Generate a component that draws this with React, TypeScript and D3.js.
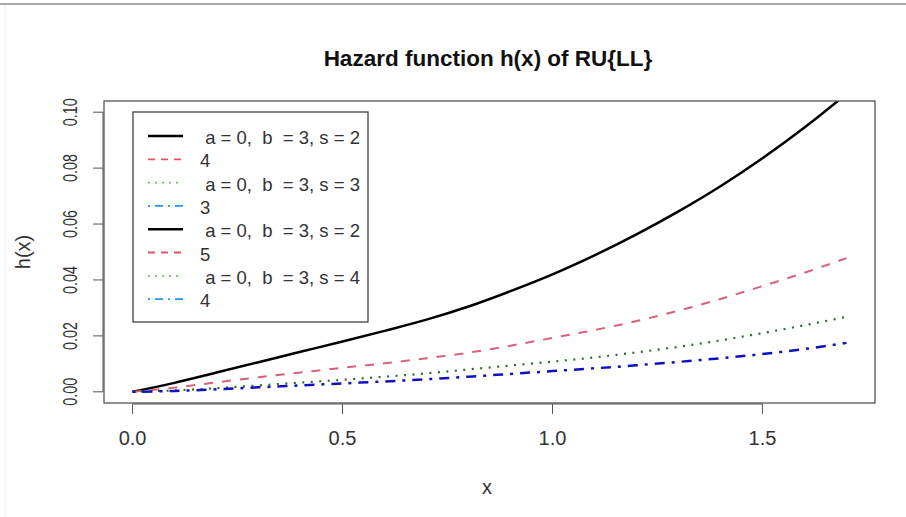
import { useEffect, useRef } from "react";
import * as d3 from "d3";

const W = 906;
const H = 517;

// x grid the curves were evaluated on
const xs = [0, 0.1, 0.2, 0.3, 0.4, 0.5, 0.6, 0.7, 0.8, 0.9, 1.0, 1.1, 1.2, 1.3, 1.4, 1.5, 1.6, 1.7];

// hazard values
const hSolid = [0, 0.0032, 0.0069, 0.0106, 0.0143, 0.018, 0.0218, 0.0258, 0.0305, 0.036, 0.042, 0.0488, 0.0563, 0.0645, 0.0735, 0.0835, 0.0945, 0.1065];
const hDashed = [0, 0.0015, 0.0034, 0.0052, 0.0069, 0.0086, 0.0102, 0.012, 0.014, 0.0165, 0.0193, 0.0221, 0.0253, 0.029, 0.0332, 0.0378, 0.0426, 0.0478];
const hDotted = [0, 0.0005, 0.0013, 0.0023, 0.0033, 0.0043, 0.0054, 0.0066, 0.008, 0.0094, 0.0108, 0.0123, 0.0141, 0.0161, 0.0184, 0.021, 0.0238, 0.0268];
const hDotDash = [0, 0.0003, 0.0009, 0.0016, 0.0023, 0.003, 0.0037, 0.0045, 0.0054, 0.0064, 0.0074, 0.0084, 0.0095, 0.0107, 0.012, 0.0135, 0.0153, 0.0175];

const xTicks = [0, 0.5, 1.0, 1.5];
const yTicks = [0, 0.02, 0.04, 0.06, 0.08, 0.1];

const legendLabels = [
  " a = 0,  b  = 3, s = 2",
  "4",
  " a = 0,  b  = 3, s = 3",
  "3",
  " a = 0,  b  = 3, s = 2",
  "5",
  " a = 0,  b  = 3, s = 4",
  "4",
];
// legend uses palette 1:4, lty 1:4 repeated
const legendColors = ["#000000", "#DF536B", "#61D04F", "#2297E6"];
const legendDash = [null, "7,6", "2,5", "2,5,8,5"];

const FONT = "'Liberation Sans', Arial, Helvetica, sans-serif";

export default function App() {
  const ref = useRef<SVGSVGElement>(null);

  useEffect(() => {
    const svg = d3.select(ref.current);
    svg.selectAll("*").remove();

    const x = d3.scaleLinear().domain([-0.068, 1.768]).range([104, 875]);
    const y = d3.scaleLinear().domain([-0.004, 0.104]).range([403, 101]);

    svg.append("rect").attr("width", W).attr("height", H).attr("fill", "#fff");
    // screenshot frame edges
    svg.append("line").attr("x1", 0).attr("x2", W).attr("y1", 4).attr("y2", 4)
      .attr("stroke", "#a8a8a8").attr("stroke-width", 2);
    svg.append("line").attr("x1", 5).attr("x2", 5).attr("y1", 5).attr("y2", H)
      .attr("stroke", "#f0f0f0").attr("stroke-width", 1);

    svg.append("clipPath").attr("id", "plotclip")
      .append("rect")
      .attr("x", x(-0.068)).attr("y", y(0.104))
      .attr("width", x(1.768) - x(-0.068)).attr("height", y(-0.004) - y(0.104));

    const line = d3.line<number>()
      .x((_, i) => x(xs[i]))
      .y((d) => y(d))
      .curve(d3.curveMonotoneX);

    const series = [
      { data: hSolid, color: "#000000", dash: null, width: 2.5 },
      { data: hDashed, color: "#D9607A", dash: "9,9", width: 2 },
      { data: hDotted, color: "#2E6B2E", dash: "2,6.5", width: 2.2 },
      { data: hDotDash, color: "#1010C0", dash: "3,7,10,7", width: 2.5 },
    ];

    const g = svg.append("g").attr("clip-path", "url(#plotclip)");
    series.forEach((s) => {
      g.append("path")
        .datum(s.data)
        .attr("d", line)
        .attr("fill", "none")
        .attr("stroke", s.color)
        .attr("stroke-width", s.width)
        .attr("stroke-dasharray", s.dash)
        .attr("stroke-linecap", "butt");
    });

    // box
    svg.append("rect")
      .attr("x", x(-0.068)).attr("y", y(0.104))
      .attr("width", x(1.768) - x(-0.068)).attr("height", y(-0.004) - y(0.104))
      .attr("fill", "none").attr("stroke", "#555").attr("stroke-width", 1.3);

    // x axis
    const xa = svg.append("g");
    xa.append("line").attr("x1", x(0)).attr("x2", x(1.5)).attr("y1", 404).attr("y2", 404)
      .attr("stroke", "#555").attr("stroke-width", 1);
    xTicks.forEach((t) => {
      xa.append("line").attr("x1", x(t)).attr("x2", x(t)).attr("y1", 404).attr("y2", 414)
        .attr("stroke", "#555");
      xa.append("text").attr("x", x(t)).attr("y", 445)
        .attr("text-anchor", "middle").attr("font-size", 20).attr("fill", "#333")
        .attr("font-family", FONT).text(d3.format(".1f")(t));
    });

    // y axis
    const ya = svg.append("g");
    ya.append("line").attr("x1", 103).attr("x2", 103).attr("y1", y(0)).attr("y2", y(0.1))
      .attr("stroke", "#555");
    yTicks.forEach((t) => {
      ya.append("line").attr("x1", 93).attr("x2", 103).attr("y1", y(t)).attr("y2", y(t))
        .attr("stroke", "#555");
      ya.append("text")
        .attr("transform", `translate(77,${y(t)}) rotate(-90)`)
        .attr("text-anchor", "middle").attr("font-size", 19.5).attr("fill", "#333")
        .attr("textLength", 28).attr("lengthAdjust", "spacingAndGlyphs")
        .attr("font-family", FONT).text(d3.format(".2f")(t));
    });

    // titles
    svg.append("text").attr("x", 488).attr("y", 66).attr("text-anchor", "middle")
      .attr("font-size", 22.5).attr("font-weight", "bold").attr("fill", "#111")
      .attr("font-family", FONT).text("Hazard function h(x) of RU{LL}");
    svg.append("text").attr("x", 487).attr("y", 494).attr("text-anchor", "middle")
      .attr("font-size", 20).attr("fill", "#333").attr("font-family", FONT).text("x");
    svg.append("text").attr("transform", "translate(30,252) rotate(-90)")
      .attr("text-anchor", "middle").attr("font-size", 20).attr("fill", "#333")
      .attr("font-family", FONT).text("h(x)");

    // legend
    const lg = svg.append("g");
    lg.append("rect").attr("x", 133).attr("y", 112).attr("width", 235).attr("height", 210)
      .attr("fill", "#fff").attr("stroke", "#333").attr("stroke-width", 1.2);
    legendLabels.forEach((lab, i) => {
      const cy = 136 + i * 23.3;
      lg.append("line").attr("x1", 148).attr("x2", 183).attr("y1", cy).attr("y2", cy)
        .attr("stroke", legendColors[i % 4]).attr("stroke-width", i % 4 === 0 ? 2.5 : 1.8)
        .attr("stroke-dasharray", legendDash[i % 4]);
      lg.append("text").attr("x", 200).attr("y", cy + 8)
        .attr("font-size", 18.5).attr("fill", "#333").attr("font-family", FONT)
        .attr("xml:space", "preserve").style("white-space", "pre").text(lab);
    });
  }, []);

  return (
    <svg
      ref={ref}
      width={W}
      height={H}
      style={{ position: "absolute", left: 0, top: 0, display: "block" }}
    />
  );
}
